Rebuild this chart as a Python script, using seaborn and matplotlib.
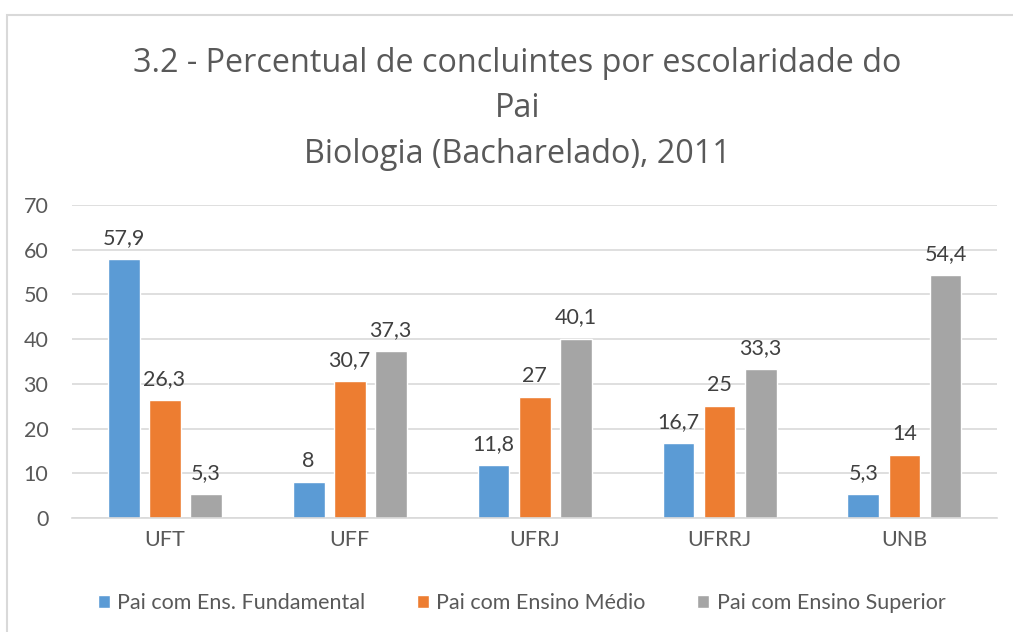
import pandas as pd
import seaborn as sns
import matplotlib.pyplot as plt
from matplotlib.patches import Rectangle


universidades = ["UFT", "UFF", "UFRJ", "UFRRJ", "UNB"]
series = ["Pai com Ens. Fundamental", "Pai com Ensino Médio", "Pai com Ensino Superior"]
fundamental = [57.9, 8, 11.8, 16.7, 5.3]
medio = [26.3, 30.7, 27, 25, 14]
superior = [5.3, 37.3, 40.1, 33.3, 54.4]

cores = ["#5B9BD5", "#ED7D31", "#A5A5A5"]

df = pd.DataFrame({
    "Universidade": universidades * 3,
    "Escolaridade": [series[0]] * 5 + [series[1]] * 5 + [series[2]] * 5,
    "Percentual": fundamental + medio + superior,
})

sns.set_style("white")
plt.rcParams["font.family"] = ["Lato", "DejaVu Sans"]

fig = plt.figure(figsize=(10.13, 6.32), dpi=100)
ax = fig.add_axes([0.0711, 0.1804, 0.9131, 0.4952])

sns.barplot(data=df, x="Universidade", y="Percentual", hue="Escolaridade",
            palette=cores, width=0.665, gap=0.22, ax=ax, legend=True,
            saturation=1)

# rotulos de dados com virgula decimal
for cont in ax.containers:
    labs = [f"{v:g}".replace(".", ",") for v in cont.datavalues]
    ax.bar_label(cont, labels=labs, padding=8, fontsize=15.5, color="#404040")

ax.set_ylim(0, 70)
ax.set_yticks(range(0, 71, 10))
ax.yaxis.grid(True, color="#D9D9D9", linewidth=1.2)
ax.set_axisbelow(True)
for s in ["top", "right", "left"]:
    ax.spines[s].set_visible(False)
ax.spines["bottom"].set_color("#D9D9D9")
ax.spines["bottom"].set_linewidth(1.2)
ax.tick_params(axis="both", length=0, labelsize=15.5, labelcolor="#595959")
ax.tick_params(axis="y", pad=17)
ax.tick_params(axis="x", pad=9)
ax.set_xlabel("")
ax.set_ylabel("")

fig.text(0.511, 0.926,
         "3.2 - Percentual de concluintes por escolaridade do\nPai\nBiologia (Bacharelado), 2011",
         ha="center", va="top", fontsize=23.3, color="#595959",
         family=["Open Sans", "DejaVu Sans"], linespacing=1.5)

leg = ax.legend(loc="center", bbox_to_anchor=(0.515, 0.046),
                bbox_transform=fig.transFigure, ncol=3, frameon=False,
                fontsize=15.5, handlelength=0.55, handleheight=0.55,
                handletextpad=0.35, columnspacing=2.4)
for t in leg.get_texts():
    t.set_color("#595959")

# moldura do grafico
fig.patches.append(Rectangle((7 / 1013, -0.1), 1.2, 1 - 15 / 632 + 0.1,
                             transform=fig.transFigure, fill=False,
                             edgecolor="#D9D9D9", linewidth=1.5))

fig.savefig("out.png", dpi=100)
